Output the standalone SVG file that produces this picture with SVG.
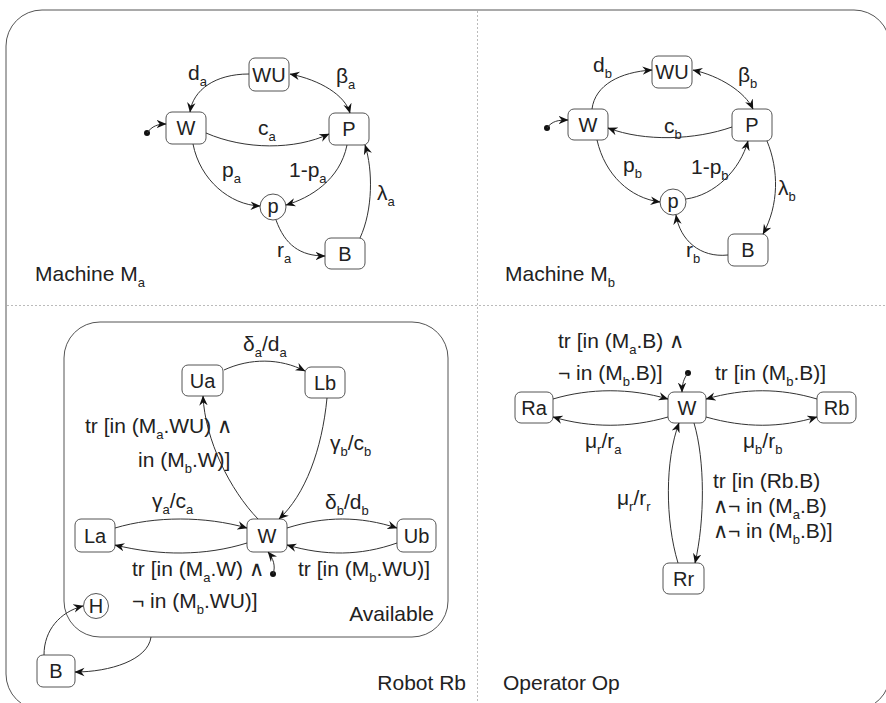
<svg xmlns="http://www.w3.org/2000/svg" width="886" height="703" viewBox="0 0 886 703">
<defs>
<marker id="ar" viewBox="0 0 10 10" refX="9.5" refY="5" markerWidth="10" markerHeight="10" markerUnits="userSpaceOnUse" orient="auto-start-reverse">
<path d="M0,0.8 L10,5 L0,9.2 L3.2,5 Z" fill="#111"/>
</marker>
<style>
text{font-family:"Liberation Sans",Arial,sans-serif;font-size:21px;fill:#222}
.s{font-size:13px}
.n{text-anchor:middle;font-size:20px}
.box{fill:#fff;stroke:#555;stroke-width:1}
.e{fill:none;stroke:#333;stroke-width:1;marker-end:url(#ar)}
.b{marker-start:url(#ar)}
.sep{stroke:#bbb;stroke-width:1;stroke-dasharray:2,2}
.frame{fill:none;stroke:#555;stroke-width:1}
</style>
</defs>
<rect width="886" height="703" fill="#fff"/>
<rect class="frame" x="6" y="10" width="884" height="700" rx="36"/>
<line class="sep" x1="7" y1="305.5" x2="886" y2="305.5"/>
<line class="sep" x1="477.5" y1="11" x2="477.5" y2="703"/>

<!-- Machine Ma -->
<g id="ma-WU"><rect class="box" x="249" y="58" width="40" height="33" rx="6"/><text class="n" x="269" y="82">WU</text></g>
<g id="ma-W"><rect class="box" x="166" y="112" width="40" height="32" rx="6"/><text class="n" x="186" y="135">W</text></g>
<g id="ma-P"><rect class="box" x="329" y="113" width="40" height="32" rx="6"/><text class="n" x="349" y="136">P</text></g>
<g id="ma-p"><circle class="box" cx="273" cy="207" r="13"/><text class="n" x="273" y="213">p</text></g>
<g id="ma-B"><rect class="box" x="325" y="238" width="40" height="31" rx="6"/><text class="n" x="345" y="261">B</text></g>
<g id="ma-init"><circle cx="147" cy="133" r="3" fill="#111"/></g>

<!-- Machine Mb -->
<g id="mb-WU"><rect class="box" x="652" y="56" width="40" height="32" rx="6"/><text class="n" x="672" y="79">WU</text></g>
<g id="mb-W"><rect class="box" x="568" y="109" width="40" height="31" rx="6"/><text class="n" x="588" y="132">W</text></g>
<g id="mb-P"><rect class="box" x="732" y="109" width="40" height="32" rx="6"/><text class="n" x="752" y="132">P</text></g>
<g id="mb-p"><circle class="box" cx="673" cy="202" r="13"/><text class="n" x="673" y="208">p</text></g>
<g id="mb-B"><rect class="box" x="728" y="234" width="40" height="32" rx="6"/><text class="n" x="748" y="257">B</text></g>
<g id="mb-init"><circle cx="547" cy="128" r="3" fill="#111"/></g>

<!-- Robot Rb -->
<g id="rb-Available"><rect class="box" x="64" y="322" width="384" height="315" rx="36"/><text x="434" y="621" style="text-anchor:end">Available</text></g>
<g id="rb-Ua"><rect class="box" x="182" y="365" width="41" height="31" rx="6"/><text class="n" x="202.5" y="388">Ua</text></g>
<g id="rb-Lb"><rect class="box" x="305" y="367" width="40" height="31" rx="6"/><text class="n" x="325" y="390">Lb</text></g>
<g id="rb-La"><rect class="box" x="75" y="519" width="40" height="33" rx="6"/><text class="n" x="95" y="543">La</text></g>
<g id="rb-W"><rect class="box" x="247" y="519" width="40" height="33" rx="6"/><text class="n" x="267" y="543">W</text></g>
<g id="rb-Ub"><rect class="box" x="397" y="519" width="39" height="33" rx="6"/><text class="n" x="416.5" y="543">Ub</text></g>
<g id="rb-H"><circle class="box" cx="96" cy="606" r="12.5"/><text class="n" x="96" y="613">H</text></g>
<g id="rb-B"><rect class="box" x="37" y="655" width="38" height="32" rx="6"/><text class="n" x="56" y="678">B</text></g>
<g id="rb-init"><circle cx="273" cy="574" r="3" fill="#111"/></g>

<!-- Operator Op -->
<g id="op-Ra"><rect class="box" x="515" y="392" width="38" height="31" rx="6"/><text class="n" x="534" y="415">Ra</text></g>
<g id="op-W"><rect class="box" x="668" y="392" width="38" height="31" rx="6"/><text class="n" x="687" y="415">W</text></g>
<g id="op-Rb"><rect class="box" x="817" y="392" width="39" height="31" rx="6"/><text class="n" x="836.5" y="415">Rb</text></g>
<g id="op-Rr"><rect class="box" x="663" y="563" width="41" height="31" rx="6"/><text class="n" x="683.5" y="586">Rr</text></g>
<g id="op-init"><circle cx="688" cy="373" r="3" fill="#111"/></g>

<g id="connectors">
<!-- Ma -->
<path class="e" d="M249,74 C215,74 193,90 190,112"/>
<path class="e b" d="M290,74 C320,80 345,95 350,113"/>
<path class="e" d="M206,133 C245,150 295,150 329,134"/>
<path class="e" d="M193,144 C200,180 230,205 260,206"/>
<path class="e" d="M347,145 C340,180 310,198 286,205"/>
<path class="e" d="M276,220 C285,245 300,256 325,256"/>
<path class="e" d="M360,238 C373,210 373,170 365,145"/>
<path class="e" d="M147,133 C152,126 158,124 166,124"/>
<!-- Mb -->
<path class="e" d="M592,109 C595,85 620,72 652,70"/>
<path class="e b" d="M693,70 C720,76 745,92 753,109"/>
<path class="e" d="M732,127 C695,140 645,142 608,128"/>
<path class="e" d="M597,140 C605,175 630,198 660,202"/>
<path class="e" d="M686,199 C715,195 740,170 748,141"/>
<path class="e" d="M767,141 C779,170 779,205 763,234"/>
<path class="e" d="M728,255 C700,258 680,240 676,215"/>
<path class="e" d="M547,128 C552,121 558,120 568,120"/>
<!-- Rb -->
<path class="e" d="M224,370 C250,358 280,358 305,371"/>
<path class="e" d="M327,398 C322,450 305,495 279,519"/>
<path class="e" d="M258,519 C230,490 205,440 203,396"/>
<path class="e" d="M115,528 C155,516 205,516 247,528"/>
<path class="e" d="M247,543 C205,556 160,556 115,545"/>
<path class="e" d="M287,528 C325,516 360,516 397,528"/>
<path class="e" d="M397,543 C360,556 325,556 287,545"/>
<path class="e" d="M273,574 C276,566 273,558 268,552"/>
<path class="e" d="M44,655 C44,630 60,612 83,606"/>
<path class="e" d="M151,637 C148,660 110,672 75,672"/>
<!-- Op -->
<path class="e" d="M553,399 C590,388 630,388 668,399"/>
<path class="e" d="M668,417 C630,428 590,428 553,417"/>
<path class="e" d="M817,399 C780,388 745,388 706,399"/>
<path class="e" d="M706,417 C745,428 780,428 817,417"/>
<path class="e" d="M678,563 C665,520 665,460 679,423"/>
<path class="e" d="M694,423 C705,460 705,520 695,563"/>
<path class="e" d="M688,373 C684,378 682,384 682,392"/>
</g>

<g id="labels">
<!-- Ma -->
<text x="188" y="80">d<tspan class="s" dy="6">a</tspan></text>
<text x="336" y="83">β<tspan class="s" dy="6">a</tspan></text>
<text x="258" y="135">c<tspan class="s" dy="6">a</tspan></text>
<text x="222" y="177">p<tspan class="s" dy="6">a</tspan></text>
<text x="289" y="177">1-p<tspan class="s" dy="6">a</tspan></text>
<text x="377" y="200">λ<tspan class="s" dy="6">a</tspan></text>
<text x="277" y="257">r<tspan class="s" dy="6">a</tspan></text>
<text x="35" y="281">Machine M<tspan class="s" dy="6">a</tspan></text>
<!-- Mb -->
<text x="593" y="72">d<tspan class="s" dy="6">b</tspan></text>
<text x="738" y="82">β<tspan class="s" dy="6">b</tspan></text>
<text x="664" y="133">c<tspan class="s" dy="6">b</tspan></text>
<text x="623" y="172">p<tspan class="s" dy="6">b</tspan></text>
<text x="691" y="174">1-p<tspan class="s" dy="6">b</tspan></text>
<text x="778" y="195">λ<tspan class="s" dy="6">b</tspan></text>
<text x="686" y="257">r<tspan class="s" dy="6">b</tspan></text>
<text x="505" y="281">Machine M<tspan class="s" dy="6">b</tspan></text>
<!-- Rb -->
<text x="243" y="351">δ<tspan class="s" dy="6">a</tspan><tspan dy="-6">/d</tspan><tspan class="s" dy="6">a</tspan></text>
<text x="85" y="433">tr [in (M<tspan class="s" dy="6">a</tspan><tspan dy="-6">.WU) ∧</tspan></text>
<text x="138" y="467">in (M<tspan class="s" dy="6">b</tspan><tspan dy="-6">.W)]</tspan></text>
<text x="330" y="450">γ<tspan class="s" dy="6">b</tspan><tspan dy="-6">/c</tspan><tspan class="s" dy="6">b</tspan></text>
<text x="152" y="508">γ<tspan class="s" dy="6">a</tspan><tspan dy="-6">/c</tspan><tspan class="s" dy="6">a</tspan></text>
<text x="325" y="509">δ<tspan class="s" dy="6">b</tspan><tspan dy="-6">/d</tspan><tspan class="s" dy="6">b</tspan></text>
<text x="132" y="576">tr [in (M<tspan class="s" dy="6">a</tspan><tspan dy="-6">.W) ∧</tspan></text>
<text x="132" y="608">¬ in (M<tspan class="s" dy="6">b</tspan><tspan dy="-6">.WU)]</tspan></text>
<text x="298" y="576">tr [in (M<tspan class="s" dy="6">b</tspan><tspan dy="-6">.WU)]</tspan></text>
<text x="466" y="690" style="text-anchor:end">Robot Rb</text>
<!-- Op -->
<text x="503" y="690">Operator Op</text>
<text x="558" y="348">tr [in (M<tspan class="s" dy="6">a</tspan><tspan dy="-6">.B) ∧</tspan></text>
<text x="558" y="380">¬ in (M<tspan class="s" dy="6">b</tspan><tspan dy="-6">.B)]</tspan></text>
<text x="715" y="380">tr [in (M<tspan class="s" dy="6">b</tspan><tspan dy="-6">.B)]</tspan></text>
<text x="585" y="448">μ<tspan class="s" dy="6">r</tspan><tspan dy="-6">/r</tspan><tspan class="s" dy="6">a</tspan></text>
<text x="743" y="448">μ<tspan class="s" dy="6">b</tspan><tspan dy="-6">/r</tspan><tspan class="s" dy="6">b</tspan></text>
<text x="617" y="505">μ<tspan class="s" dy="6">r</tspan><tspan dy="-6">/r</tspan><tspan class="s" dy="6">r</tspan></text>
<text x="713" y="488">tr [in (Rb.B)</text>
<text x="713" y="513">∧¬ in (M<tspan class="s" dy="6">a</tspan><tspan dy="-6">.B)</tspan></text>
<text x="713" y="538">∧¬ in (M<tspan class="s" dy="6">b</tspan><tspan dy="-6">.B)]</tspan></text>
</g>
</svg>
